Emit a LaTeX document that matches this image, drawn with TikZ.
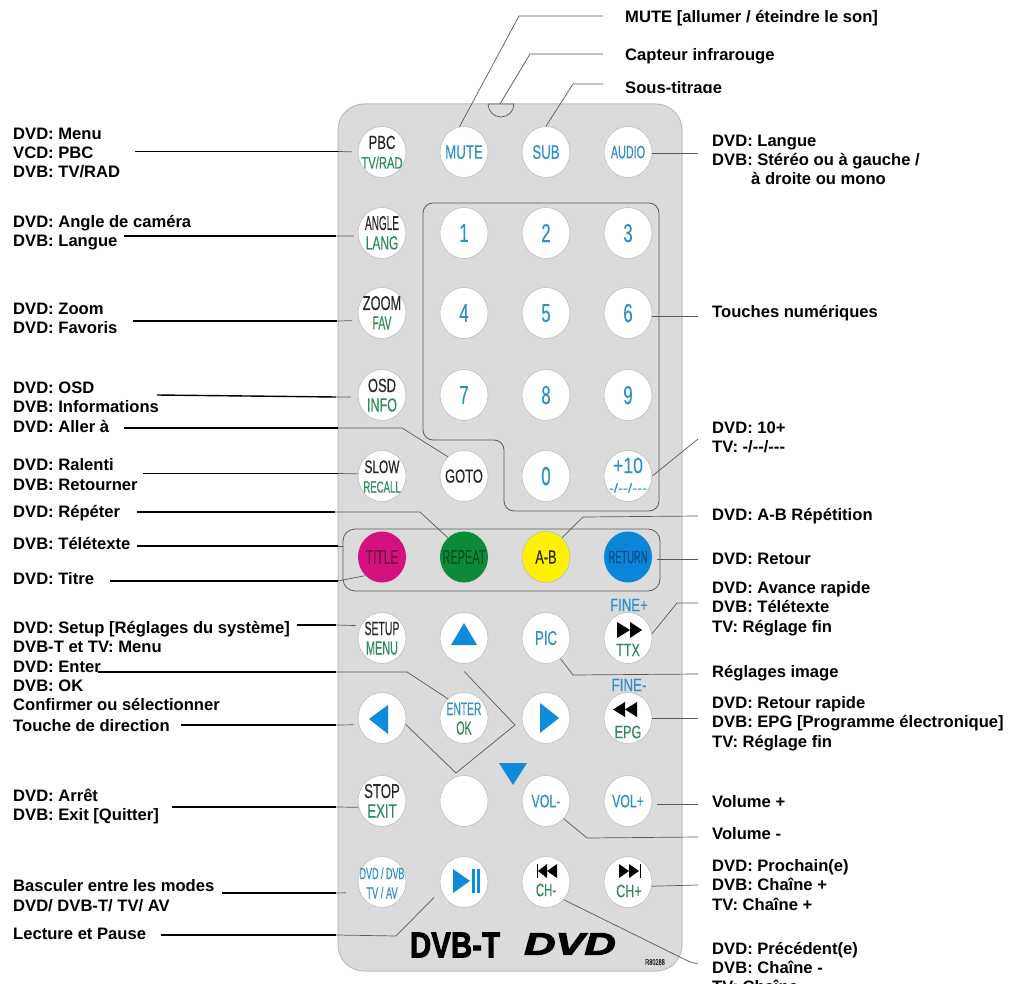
\documentclass[tikz,border=0pt]{standalone}
\usepackage{graphicx}
\usepackage{fontspec}
\setmainfont{Liberation Sans}
\newfontfamily\keyfont[FakeBold=0.3]{Liberation Sans}
\newfontfamily\logofont[BoldFeatures={FakeBold=2.5},BoldItalicFeatures={FakeBold=3}]{Liberation Sans}
\usetikzlibrary{shapes.geometric}
\definecolor{bodygray}{HTML}{DBDBDB}
\definecolor{edgegray}{HTML}{BDBDBD}
\definecolor{leadgray}{HTML}{5A5A5A}
\definecolor{keyblue}{HTML}{2F8FC6}
\definecolor{keygreen}{HTML}{2E8B57}
\definecolor{keyblack}{HTML}{262626}
\definecolor{arrowblue}{HTML}{0F8BDC}
\definecolor{titlepink}{HTML}{D3127F}
\definecolor{titletxt}{HTML}{6A1040}
\definecolor{repeatgreen}{HTML}{0B8A3C}
\definecolor{repeattxt}{HTML}{0A4F22}
\definecolor{abyellow}{HTML}{FFF200}
\definecolor{returnblue}{HTML}{0A85D9}
\definecolor{returntxt}{HTML}{0B4A86}
\newcommand{\keytxt}[4]{\scalebox{#1}[1]{\keyfont\fontsize{#2}{#2}\selectfont\color{#3}#4}}
\newcommand{\onekey}[1]{\makebox[0pt]{\raisebox{-.5\height}[0pt][0pt]{#1}}}
\newcommand{\twokey}[2]{\makebox[0pt]{\raisebox{3pt}[0pt][0pt]{#1}}\makebox[0pt]{\raisebox{-16.5pt}[0pt][0pt]{#2}}}
\tikzset{
  desc/.style={anchor=west,align=left,inner sep=0pt,font=\fontsize{16.6}{19.3}\selectfont\bfseries},
  keybtn/.style={ellipse,draw=edgegray,fill=white,line width=0.6pt,minimum width=48,minimum height=51,inner sep=0pt},
  colbtn/.style={keybtn,draw=none},
  keytext/.style={inner sep=0pt},
  blackline/.style={black,line width=1.4pt},
  grayline/.style={leadgray,line width=0.7pt},
}
\begin{document}
\begin{tikzpicture}[x=1pt,y=1pt]
\useasboundingbox (0,0) rectangle (1012,-984);
\fill [white] (0,0) rectangle (1012,-984);
\draw [edgegray,fill=bodygray,line width=1pt,rounded corners=26] (338,-104) rectangle (682,-971);
\draw [leadgray,fill=bodygray,line width=0.7pt] (488,-104) arc (180:360:13) -- cycle;
\draw [leadgray,line width=0.8pt,rounded corners=10] (423,-203) -- (659,-203) -- (659,-511) -- (504,-511) -- (504,-440) -- (423,-440) -- cycle;
\draw [leadgray,line width=0.8pt,rounded corners=12] (343,-529) rectangle (660,-591);

\node [keybtn] (btnPBC) at (382,-152) {\twokey{\keytxt{.69}{19}{keyblack}{PBC}}{\keytxt{.68}{16.5}{keygreen}{TV/RAD}}};
\node [keybtn] (btnMUTE) at (464,-152) {\onekey{\keytxt{.68}{19.5}{keyblue}{MUTE}}};
\node [keybtn] (btnSUB) at (546,-152) {\onekey{\keytxt{.68}{19.5}{keyblue}{SUB}}};
\node [keybtn] (btnAUDIO) at (628,-152) {\onekey{\keytxt{.6}{18}{keyblue}{AUDIO}}};
\node [keybtn] (btnANGLE) at (382,-233) {\twokey{\keytxt{.5}{20}{keyblack}{ANGLE}}{\keytxt{.63}{19}{keygreen}{LANG}}};
\node [keybtn] (btnOne) at (464,-233) {\onekey{\keytxt{.65}{26}{keyblue}{1}}};
\node [keybtn] (btnTwo) at (546,-233) {\onekey{\keytxt{.65}{26}{keyblue}{2}}};
\node [keybtn] (btnThree) at (628,-233) {\onekey{\keytxt{.65}{26}{keyblue}{3}}};
\node [keybtn] (btnZOOM) at (382,-313) {\twokey{\keytxt{.64}{20}{keyblack}{ZOOM}}{\keytxt{.55}{19}{keygreen}{FAV}}};
\node [keybtn] (btnFour) at (464,-313) {\onekey{\keytxt{.65}{26}{keyblue}{4}}};
\node [keybtn] (btnFive) at (546,-313) {\onekey{\keytxt{.65}{26}{keyblue}{5}}};
\node [keybtn] (btnSix) at (628,-313) {\onekey{\keytxt{.65}{26}{keyblue}{6}}};
\node [keybtn] (btnOSD) at (382,-395) {\twokey{\keytxt{.68}{19}{keyblack}{OSD}}{\keytxt{.66}{19}{keygreen}{INFO}}};
\node [keybtn] (btnSeven) at (464,-395) {\onekey{\keytxt{.65}{26}{keyblue}{7}}};
\node [keybtn] (btnEight) at (546,-395) {\onekey{\keytxt{.65}{26}{keyblue}{8}}};
\node [keybtn] (btnNine) at (628,-395) {\onekey{\keytxt{.65}{26}{keyblue}{9}}};
\node [keybtn] (btnSLOW) at (382,-476) {\twokey{\keytxt{.66}{18}{keyblack}{SLOW}}{\keytxt{.6}{16}{keygreen}{RECALL}}};
\node [keybtn] (btnGOTO) at (464,-476) {\onekey{\keytxt{.68}{19}{keyblack}{GOTO}}};
\node [keybtn] (btnZero) at (546,-476) {\onekey{\keytxt{.65}{26}{keyblue}{0}}};
\node [keybtn] (btnTEN) at (628,-476) {\twokey{\keytxt{.8}{22}{keyblue}{+10}}{\keytxt{1.15}{13}{keyblue}{-{}/-{}-{}/-{}-{}-}}};
\node [colbtn,fill=titlepink] (btnTITLE) at (382,-557) {\onekey{\keytxt{.6}{20}{titletxt}{TITLE}}};
\node [colbtn,fill=repeatgreen] (btnREPEAT) at (464,-557) {\onekey{\keytxt{.55}{20}{repeattxt}{REPEAT}}};
\node [colbtn,fill=abyellow,draw=edgegray] (btnAB) at (546,-557) {\onekey{\keytxt{.67}{19}{keyblack}{A-B}}};
\node [colbtn,fill=returnblue] (btnRETURN) at (628,-557) {\onekey{\keytxt{.52}{18}{returntxt}{RETURN}}};
\node [keybtn] (btnSETUP) at (382,-638) {\twokey{\keytxt{.55}{19}{keyblack}{SETUP}}{\keytxt{.57}{19}{keygreen}{MENU}}};
\node [keybtn] (btnUp) at (464,-638) {};
\node [keybtn] (btnPIC) at (546,-638) {\onekey{\keytxt{.66}{20}{keyblue}{PIC}}};
\node [keybtn] (btnTTX) at (628,-638) {};
\node [keybtn] (btnLeft) at (382,-718) {};
\node [keybtn] (btnENTER) at (464,-718) {\twokey{\keytxt{.57}{18}{keyblue}{ENTER}}{\keytxt{.56}{19}{keygreen}{OK}}};
\node [keybtn] (btnRight) at (546,-718) {};
\node [keybtn] (btnEPG) at (628,-718) {};
\node [keybtn] (btnSTOP) at (382,-801) {\twokey{\keytxt{.66}{20}{keyblack}{STOP}}{\keytxt{.7}{19}{keygreen}{EXIT}}};
\node [keybtn] (btnBlank) at (464,-801) {};
\node [keybtn] (btnVOLm) at (546,-801) {\onekey{\keytxt{.69}{18}{keyblue}{VOL-}}};
\node [keybtn] (btnVOLp) at (628,-801) {\onekey{\keytxt{.68}{18}{keyblue}{VOL+}}};
\node [keybtn] (btnMODE) at (382,-882) {\twokey{\keytxt{.56}{16}{keyblue}{DVD / DVB}}{\keytxt{.58}{16}{keyblue}{TV / AV}}};
\node [keybtn] (btnPLAY) at (464,-882) {};
\node [keybtn] (btnCHm) at (546,-882) {};
\node [keybtn] (btnCHp) at (628,-882) {};

\node [keytext] (txtFINEp) at (629,-605) {\keytxt{.73}{18}{keyblue}{FINE+}};
\node [keytext] (txtFINEm) at (629,-685) {\keytxt{.74}{18}{keyblue}{FINE-}};
\node [keytext] (txtTTX) at (628,-650) {\keytxt{.7}{18}{keygreen}{TTX}};
\node [keytext] (txtEPG) at (628,-732) {\keytxt{.7}{18}{keygreen}{EPG}};
\node [keytext] (txtCHm) at (546,-890) {\keytxt{.63}{18}{keygreen}{CH-}};
\node [keytext] (txtCHp) at (629,-891) {\keytxt{.7}{18}{keygreen}{CH+}};
\node [keytext] (txtDVBT) at (455,-945) {\keytxt{.82}{36}{black}{\logofont\bfseries DVB-T}};
\node [keytext] (txtDVD) at (570,-944) {\keytxt{1.4}{31}{black}{\logofont\bfseries\itshape DVD}};
\node [keytext] (txtRef) at (655,-962) {\keytxt{.7}{8}{keyblack}{R80288}};

\fill [arrowblue] (464,-623) -- (477,-645) -- (451,-645) -- cycle;
\fill [arrowblue] (369,-719) -- (388,-705) -- (388,-734) -- cycle;
\fill [arrowblue] (559,-718) -- (540,-703) -- (540,-733) -- cycle;
\fill [arrowblue] (499,-763) -- (527,-763) -- (513,-785) -- cycle;
\fill [arrowblue] (453,-869) -- (470,-881) -- (453,-893) -- cycle;
\fill [arrowblue] (472,-869) rectangle (475,-893);
\fill [arrowblue] (477,-869) rectangle (480,-893);
\fill [black] (617,-622) -- (630,-630) -- (617,-638) -- cycle;
\fill [black] (630,-622) -- (642,-630) -- (630,-638) -- cycle;
\fill [black] (625,-702) -- (613,-709.5) -- (625,-717) -- cycle;
\fill [black] (637,-702) -- (625,-709.5) -- (637,-717) -- cycle;
\fill [black] (547,-864) -- (538,-871) -- (547,-878) -- cycle;
\fill [black] (557,-864) -- (547,-871) -- (557,-878) -- cycle;
\draw [black,line width=1pt] (537,-864) -- (537,-878);
\fill [black] (619,-864) -- (629,-871) -- (619,-878) -- cycle;
\fill [black] (629,-864) -- (639,-871) -- (629,-878) -- cycle;
\draw [black,line width=1pt] (640,-864) -- (640,-878);

\node [desc] (lblPBC) at (13,-153) {DVD: Menu\\VCD: PBC\\DVB: TV/RAD};
\node [desc] (lblANGLE) at (13,-233) {DVD: Angle de caméra\\DVB: Langue};
\node [desc] (lblZOOM) at (13,-318.5) {DVD: Zoom\\DVD: Favoris};
\node [desc] (lblOSD) at (13,-397.5) {DVD: OSD\\DVB: Informations};
\node [desc] (lblGOTO) at (13,-426) {DVD: Aller à};
\node [desc] (lblSLOW) at (13,-474.5) {DVD: Ralenti\\DVB: Retourner};
\node [desc] (lblREPEAT) at (13,-513) {DVD: Répéter};
\node [desc] (lblTTX) at (13,-543) {DVB: Télétexte};
\node [desc] (lblTITLE) at (13,-579) {DVD: Titre};
\node [desc] (lblSETUP) at (13,-637) {DVD: Setup [Réglages du système]\\DVB-T et TV: Menu};
\node [desc] (lblENTER) at (13,-686) {DVD: Enter\\DVB: OK\\Confirmer ou sélectionner};
\node [desc] (lblDIR) at (13,-726) {Touche de direction};
\node [desc] (lblSTOP) at (13,-806.5) {DVD: Arrêt\\DVB: Exit [Quitter]};
\node [desc] (lblMODE) at (13,-895.5) {Basculer entre les modes\\DVD/ DVB-T/ TV/ AV};
\node [desc] (lblPLAY) at (13,-934) {Lecture et Pause};

\node [desc] (lblMUTE) at (625,-18) {MUTE [allumer / éteindre le son]};
\node [desc] (lblIR) at (625,-56) {Capteur infrarouge};
\begin{scope}
\clip (600,-60) rectangle (800,-92.7);
\node [desc] (lblSUB) at (625,-89) {Sous-titrage};
\end{scope}
\node [desc] (lblAUDIO) at (712,-160) {DVD: Langue\\DVB: Stéréo ou à gauche /\\\hspace*{39pt}à droite ou mono};
\node [desc] (lblSix) at (712,-313) {Touches numériques};
\node [desc] (lblTEN) at (712,-437.5) {DVD: 10+\\TV: -{}/-{}-{}/-{}-{}-};
\node [desc] (lblAB) at (712,-516) {DVD: A-B Répétition};
\node [desc] (lblRETURN) at (712,-559) {DVD: Retour};
\node [desc] (lblFWD) at (712,-608.5) {DVD: Avance rapide\\DVB: Télétexte\\TV: Réglage fin};
\node [desc] (lblPIC) at (712,-673) {Réglages image};
\node [desc] (lblEPG) at (712,-723.5) {DVD: Retour rapide\\DVB: EPG [Programme électronique]\\TV: Réglage fin};
\node [desc] (lblVOLp) at (712,-802) {Volume +};
\node [desc] (lblVOLm) at (712,-834) {Volume -};
\node [desc] (lblCHp) at (712,-885) {DVD: Prochain(e)\\DVB: Chaîne +\\TV: Chaîne +};
\node [desc] (lblCHm) at (712,-967.5) {DVD: Précédent(e)\\DVB: Chaîne -\\TV: Chaîne -};

\coordinate (endPBC) at (135,-151.5);
\coordinate (endANGLE) at (124,-236);
\coordinate (endZOOM) at (133,-321);
\coordinate (endOSD) at (157,-395);
\coordinate (endGOTO) at (124,-428);
\coordinate (endSLOW) at (143,-473.5);
\coordinate (endREPEAT) at (137,-512);
\coordinate (endTTX) at (137,-546);
\coordinate (endTITLE) at (110,-581);
\coordinate (endSETUP) at (297,-625);
\coordinate (endENTER) at (98,-672);
\coordinate (endDIR) at (181,-725);
\coordinate (endSTOP) at (172,-807);
\coordinate (endMODE) at (222,-893);
\coordinate (endPLAY) at (161,-935);
\coordinate (endMUTE) at (603,-16);
\coordinate (endIR) at (603,-54);
\coordinate (endSUB) at (603,-84);
\coordinate (endAUDIO) at (698,-153);
\coordinate (endSix) at (698,-316);
\coordinate (endTEN) at (698,-439);
\coordinate (endAB) at (698,-516);
\coordinate (endRETURN) at (698,-559);
\coordinate (endFWD) at (698,-603);
\coordinate (endPIC) at (698,-674);
\coordinate (endEPG) at (698,-718);
\coordinate (endVOLp) at (698,-804);
\coordinate (endVOLm) at (698,-837);
\coordinate (endCHp) at (698,-885);
\coordinate (endCHm) at (698,-964);
\coordinate (irTop) at (500,-104);

\draw [blackline] (endPBC) -- (338,-151.5);
\draw [grayline,shorten >=6pt] (338,-151.5) -- (btnPBC.west);
\draw [blackline] (endANGLE) -- (336,-236);
\draw [grayline,shorten >=4pt] (336,-236) -- (btnANGLE.187);
\draw [blackline] (endZOOM) -- (337,-321);
\draw [grayline,shorten >=7pt] (337,-321) -- (btnZOOM.198);
\draw [blackline] (endOSD) -- (336,-397);
\draw [grayline,shorten >=7pt] (336,-397) -- (btnOSD.185);
\draw [blackline] (endGOTO) -- (338,-428);
\draw [grayline] (338,-428) -- (402,-428) -- (btnGOTO.130);
\draw [blackline] (endSLOW) -- (338,-473.5);
\draw [grayline] (338,-473.5) -- (btnSLOW.175);
\draw [blackline] (endREPEAT) -- (335,-512);
\draw [grayline] (335,-512) -- (420,-512) -- (btnREPEAT.130);
\draw [blackline] (endTTX) -- (338,-546);
\draw [grayline] (338,-546) -- (343,-546);
\draw [blackline] (endTITLE) -- (338,-581);
\draw [grayline] (338,-581) -- (btnTITLE.228);
\draw [blackline] (endSETUP) -- (336,-625);
\draw [grayline,shorten >=5pt] (336,-625) -- (btnSETUP.150);
\draw [blackline] (endENTER) -- (336,-672);
\draw [grayline] (336,-672) -- (407,-672) -- (btnENTER.130);
\draw [blackline] (endDIR) -- (336,-725);
\draw [grayline,shorten >=5pt] (336,-725) -- (btnLeft.196);
\draw [blackline] (endSTOP) -- (336,-807);
\draw [grayline] (336,-807) -- (btnSTOP.195);
\draw [blackline] (endMODE) -- (336,-893);
\draw [grayline,shorten >=14pt] (336,-893) -- (btnMODE.205);
\draw [blackline] (endPLAY) -- (336,-935);
\draw [grayline,shorten >=10pt] (336,-935) -- (396,-936) -- (btnPLAY.200);
\draw [grayline,shorten >=13pt] (btnLeft.-15) -- (456,-773) -- (515,-725) -- (btnUp.-110);

\draw [grayline] (endMUTE) -- (519,-16) -- (btnMUTE.100);
\draw [grayline] (endIR) -- (530,-54) -- (irTop);
\draw [grayline] (endSUB) -- (573,-84) -- (btnSUB.north);
\draw [grayline] (endAUDIO) -- (endAUDIO -| btnAUDIO.east);
\draw [grayline] (endSix) -- (endSix -| btnSix.east);
\draw [grayline] (endTEN) -- (btnTEN.east);
\draw [grayline] (endAB) -- (583,-517) -- (btnAB.50);
\draw [grayline,shorten >=5pt] (endRETURN) -- (endRETURN -| btnRETURN.east);
\draw [grayline] (endFWD) -- (677,-603) -- (btnTTX.10);
\draw [grayline] (endPIC) -- (573,-675) -- (btnPIC.-55);
\draw [grayline] (endEPG) -- (endEPG -| btnEPG.east);
\draw [grayline,shorten >=5pt] (endVOLp) -- (endVOLp -| btnVOLp.east);
\draw [grayline] (endVOLm) -- (587,-838) -- (btnVOLm.-45);
\draw [grayline] (endCHp) -- (btnCHp.-10);
\draw [grayline] (endCHm) -- (690,-962) -- (btnCHm.-45);
\end{tikzpicture}
\end{document}
